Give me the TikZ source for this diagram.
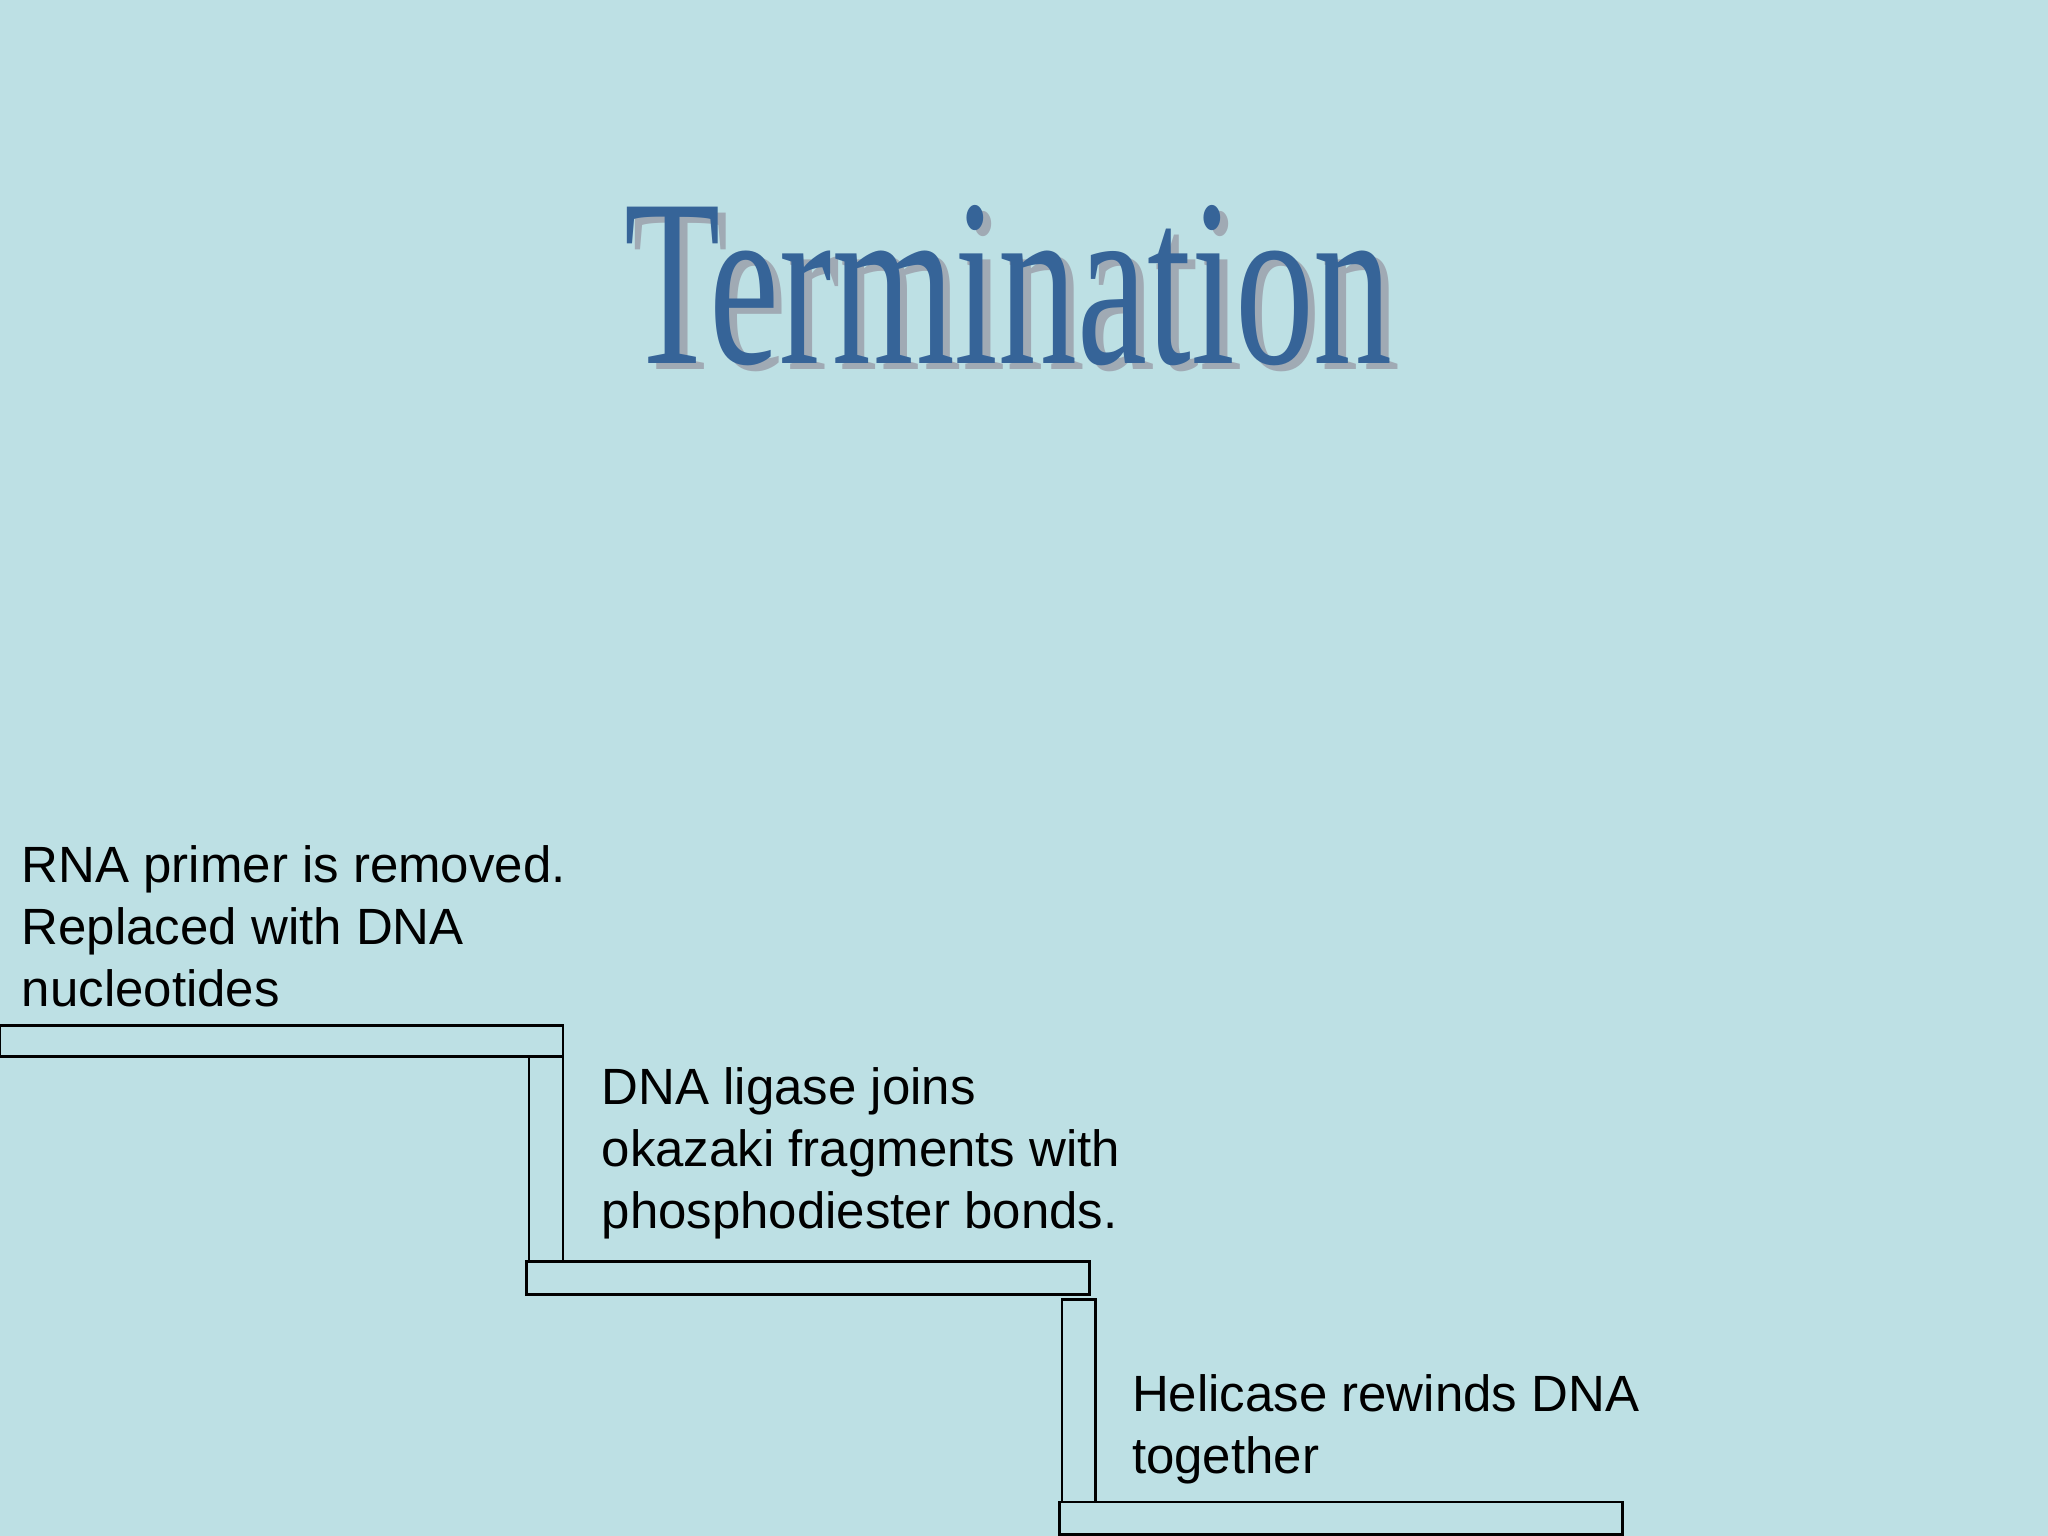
\documentclass[tikz,border=0pt]{standalone}
\usepackage{fontspec}
\setmainfont{Liberation Sans}
\newfontfamily\titlefont{Liberation Serif}
\definecolor{slide-bg}{RGB}{189, 224, 228}
\definecolor{title-blue}{RGB}{54, 100, 152}
\definecolor{title-shadow}{RGB}{160, 170, 180}
\tikzset{
  bar/.style={draw=black, line width=0.6pt, fill=none},
  steptext/.style={anchor=north west, inner sep=0pt, align=left, font=\fontsize{11.1}{13.4}\selectfont}
}

\begin{document}
\begin{tikzpicture}[x=0.01cm, y=-0.01cm]
\fill[slide-bg] (0,0) rectangle (1568,1176);
\useasboundingbox (0,0) rectangle (1568,1176);

% title with shadow
\node[title-shadow, font=\titlefont\fontsize{52}{56}\selectfont] (shadow) at (778,223) {\scalebox{0.66}[1]{Termination}};
\node[title-blue, font=\titlefont\fontsize{52}{56}\selectfont] (title) at (772,219) {\scalebox{0.66}[1]{Termination}};

% steps
\draw[bar] (0,785) rectangle (431,809);
\draw[bar] (405,809) rectangle (431,966);
\draw[bar] (403,966) rectangle (834,991);
\draw[bar] (813,995) rectangle (839,1150);
\draw[bar] (811,1150) rectangle (1242,1175);

\node[steptext] (primer) at (16,647) {RNA primer is removed.\\Replaced with DNA\\nucleotides};
\node[steptext] (ligase) at (460,817) {DNA ligase joins\\okazaki fragments with\\phosphodiester bonds.};
\node[steptext] (helicase) at (866,1052) {Helicase rewinds DNA\\together};
\end{tikzpicture}
\end{document}
